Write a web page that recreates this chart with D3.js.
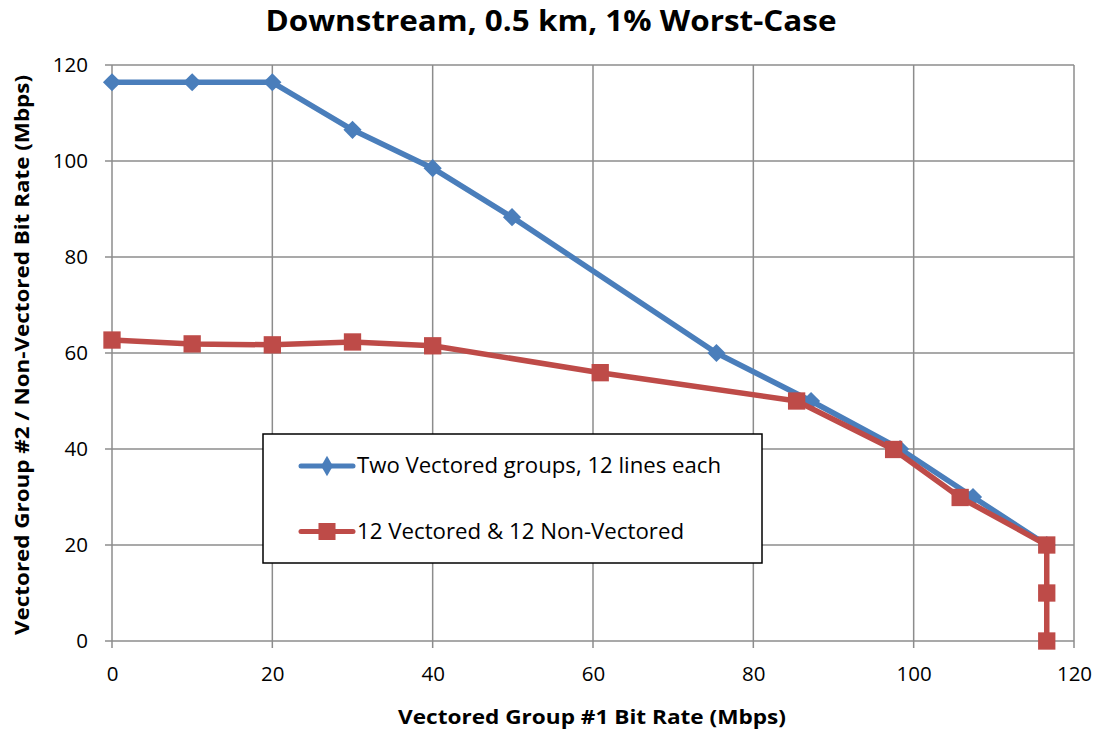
<!DOCTYPE html>
<html>
<head>
<meta charset="utf-8">
<script src="https://cdn.jsdelivr.net/npm/d3@7"></script>
<style>
  body { margin: 0; background: #fff; }
  text { font-family: "Open Sans", "Noto Sans", sans-serif; fill: #000; }
</style>
</head>
<body>
<div id="container"></div>
<script>
/* CONSTANTS AND GLOBALS */
const width = 1102, height = 732;
const margin = { top: 65, right: 28, bottom: 91, left: 112 };

// data
const vectoredX = [0, 10, 20, 30, 40, 49.9, 75.4, 87.2, 98.3, 107.4, 116.6];
const vectoredY = [116.4, 116.4, 116.4, 106.5, 98.5, 88.3, 60, 50, 40, 30, 20];
const mixedX = [0, 10, 20, 30, 40, 60.9, 85.4, 97.5, 105.8, 116.6, 116.6, 116.6];
const mixedY = [62.7, 61.9, 61.7, 62.3, 61.5, 55.9, 50, 39.9, 29.9, 20, 10, 0];
const xTicks = [0, 20, 40, 60, 80, 100, 120];
const yTicks = [0, 20, 40, 60, 80, 100, 120];
const seriesNames = ["Two Vectored groups, 12 lines each", "12 Vectored & 12 Non-Vectored"];
const seriesColors = ["#4A7EBB", "#BE4B48"];

const series = [
  { name: seriesNames[0], color: seriesColors[0], diamond: true,
    points: vectoredX.map((x, i) => ({ x, y: vectoredY[i] })) },
  { name: seriesNames[1], color: seriesColors[1], diamond: false,
    points: mixedX.map((x, i) => ({ x, y: mixedY[i] })) }
];

const innerW = width - margin.left - margin.right;
const innerH = height - margin.top - margin.bottom;

const svg = d3.select("#container")
  .append("svg")
  .attr("width", width)
  .attr("height", height);

const g = svg.append("g")
  .attr("transform", `translate(${margin.left},${margin.top})`);

const xScale = d3.scaleLinear().domain([0, 120]).range([0, innerW]);
const yScale = d3.scaleLinear().domain([0, 120]).range([innerH, 0]);

// gridlines
g.selectAll(".vgrid")
  .data(xTicks)
  .enter().append("line")
  .attr("x1", d => xScale(d)).attr("x2", d => xScale(d))
  .attr("y1", 0).attr("y2", innerH + 7)
  .attr("stroke", "#8c8c8c").attr("stroke-width", 1.5);

g.selectAll(".hgrid")
  .data(yTicks)
  .enter().append("line")
  .attr("x1", -7).attr("x2", innerW)
  .attr("y1", d => yScale(d)).attr("y2", d => yScale(d))
  .attr("stroke", "#8c8c8c").attr("stroke-width", 1.5);

// axis labels
const xAxis = g.append("g")
  .attr("transform", `translate(0,${innerH})`)
  .call(d3.axisBottom(xScale).tickValues(xTicks).tickSize(0).tickPadding(25));
xAxis.select(".domain").remove();
xAxis.selectAll("text").style("font-size", "20.5px").style("font-family", "Open Sans");

const yAxis = g.append("g")
  .call(d3.axisLeft(yScale).tickValues(yTicks).tickSize(0).tickPadding(24));
yAxis.select(".domain").remove();
yAxis.selectAll("text").style("font-size", "20.5px").style("font-family", "Open Sans");

// lines and markers
const line = d3.line().x(d => xScale(d.x)).y(d => yScale(d.y));
const squareMark = d3.symbol().type(d3.symbolSquare).size(300);
const diamondMark = d3.symbol().type(d3.symbolSquare).size(165);

series.forEach(s => {
  g.append("path")
    .datum(s.points)
    .attr("fill", "none")
    .attr("stroke", s.color)
    .attr("stroke-width", 5.5)
    .attr("stroke-linejoin", "round")
    .attr("d", line);

  g.selectAll(null)
    .data(s.points)
    .enter().append("path")
    .attr("transform", d => `translate(${xScale(d.x)},${yScale(d.y)})` + (s.diamond ? " rotate(45)" : ""))
    .attr("d", s.diamond ? diamondMark : squareMark)
    .attr("fill", s.color);
});

// legend
const legend = svg.append("g").attr("transform", "translate(263,434)");
legend.append("rect")
  .attr("width", 499).attr("height", 129)
  .attr("fill", "#fff").attr("stroke", "#000").attr("stroke-width", 1.5);

series.forEach((s, i) => {
  const ly = 32 + i * 65.5;
  legend.append("line")
    .attr("x1", 38).attr("x2", 90).attr("y1", ly).attr("y2", ly)
    .attr("stroke", s.color).attr("stroke-width", 5).attr("stroke-linecap", "round");
  legend.append("path")
    .attr("transform", `translate(64,${ly})`)
    .attr("d", d3.symbol().type(s.diamond ? d3.symbolDiamond : d3.symbolSquare).size(s.diamond ? 120 : 290))
    .attr("fill", s.color);
  legend.append("text")
    .attr("x", 94).attr("y", ly + 7)
    .attr("textLength", i === 0 ? 364 : 327)
    .attr("lengthAdjust", "spacingAndGlyphs")
    .style("font-size", "21px")
    .text(s.name);
});

// title and axis titles
svg.append("text")
  .attr("x", 551).attr("y", 31)
  .attr("text-anchor", "middle")
  .attr("textLength", 571).attr("lengthAdjust", "spacingAndGlyphs")
  .style("font-size", "29px").style("font-weight", "bold")
  .text("Downstream, 0.5 km, 1% Worst-Case");

svg.append("text")
  .attr("x", 592).attr("y", 724)
  .attr("text-anchor", "middle")
  .attr("textLength", 388).attr("lengthAdjust", "spacingAndGlyphs")
  .style("font-size", "20px").style("font-weight", "bold")
  .text("Vectored Group #1 Bit Rate (Mbps)");

svg.append("text")
  .attr("transform", "translate(29,355) rotate(-90)")
  .attr("text-anchor", "middle")
  .attr("textLength", 560).attr("lengthAdjust", "spacingAndGlyphs")
  .style("font-size", "20px").style("font-weight", "bold")
  .text("Vectored Group #2 / Non-Vectored Bit Rate (Mbps)");
</script>
</body>
</html>
